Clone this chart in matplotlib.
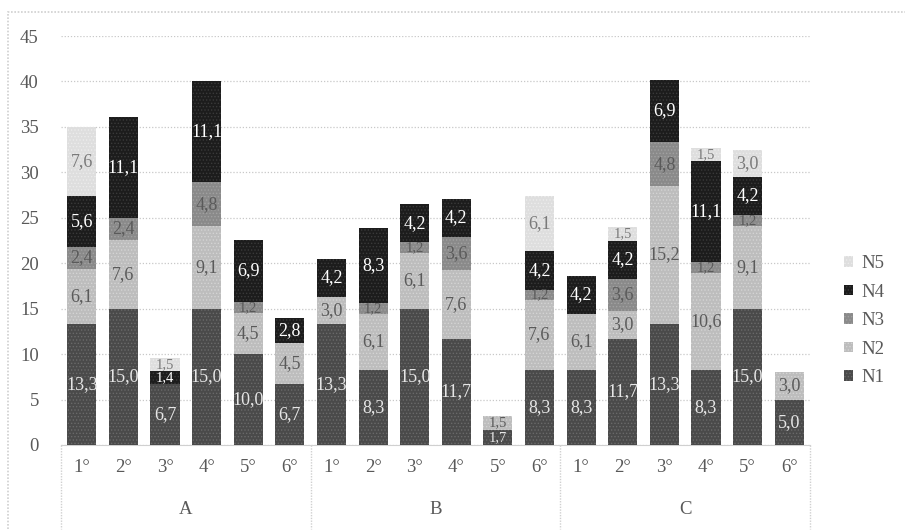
import numpy as np
import matplotlib.pyplot as plt
from matplotlib.transforms import blended_transform_factory

# datos
groups = ['A', 'B', 'C']
levels = ['1°', '2°', '3°', '4°', '5°', '6°']
series = ['N1', 'N2', 'N3', 'N4', 'N5']

n1 = [13.3, 15.0, 6.7, 15.0, 10.0, 6.7,
      13.3, 8.3, 15.0, 11.7, 1.7, 8.3,
      8.3, 11.7, 13.3, 8.3, 15.0, 5.0]
n2 = [6.1, 7.6, 0, 9.1, 4.5, 4.5,
      3.0, 6.1, 6.1, 7.6, 1.5, 7.6,
      6.1, 3.0, 15.2, 10.6, 9.1, 3.0]
n3 = [2.4, 2.4, 0, 4.8, 1.2, 0,
      0, 1.2, 1.2, 3.6, 0, 1.2,
      0, 3.6, 4.8, 1.2, 1.2, 0]
n4 = [5.6, 11.1, 1.4, 11.1, 6.9, 2.8,
      4.2, 8.3, 4.2, 4.2, 0, 4.2,
      4.2, 4.2, 6.9, 11.1, 4.2, 0]
n5 = [7.6, 0, 1.5, 0, 0, 0,
      0, 0, 0, 0, 0, 6.1,
      0, 1.5, 0, 1.5, 3.0, 0]

colors = ['#4a4a4a', '#bdbdbd', '#8a8a8a', '#1c1c1c', '#dedede']
hatch_colors = ['#6a6a6a', '#d4d4d4', '#a2a2a2', '#3a3a3a', '#ececec']
label_colors = ['#e6e6e6', '#5a5a5a', '#5a5a5a', '#ffffff', '#7a7a7a']

plt.rcParams['font.family'] = ['Liberation Serif', 'DejaVu Serif']
plt.rcParams['hatch.linewidth'] = 0.6

fig = plt.figure(figsize=(9.05, 5.30), dpi=100)
ax = fig.add_axes([0.0674, 0.1604, 0.8276, 0.7716])

# borde exterior (solo se ven izquierda y arriba)
fig.patches.append(plt.Rectangle((0.009, -0.05), 1.05, 1.028, transform=fig.transFigure,
                                 fill=False, edgecolor='#d0d0d0', linewidth=1.2, linestyle=(0, (1, 1))))

data = [n1, n2, n3, n4, n5]
x = np.arange(len(n1))
bottom = np.zeros(len(n1))
handles = []
for i, vals in enumerate(data):
    vals = np.array(vals)
    bars = ax.bar(x, vals, 0.7, bottom=bottom, color=colors[i], edgecolor=hatch_colors[i],
                  linewidth=0, hatch='.....', label=series[i], zorder=3)
    handles.append(bars)
    for xi, v, b in zip(x, vals, bottom):
        if v > 0:
            fs = 13 if v >= 2 else 10.5
            ax.text(xi, b + v / 2, '{:.1f}'.format(v).replace('.', ','), ha='center', va='center',
                    fontsize=fs, color=label_colors[i], zorder=4)
    bottom = bottom + vals

ax.set_ylim(0, 45)
ax.set_xlim(-0.5, len(n1) - 0.5)
ax.set_yticks(np.arange(0, 46, 5))
ax.yaxis.grid(True, color='#c8c8c8', linestyle=(0, (1, 1.5)), linewidth=0.9)
ax.set_axisbelow(True)
for s in ['top', 'right', 'left']:
    ax.spines[s].set_visible(False)
ax.spines['bottom'].set_color('#d0d0d0')
ax.spines['bottom'].set_linestyle((0, (1, 1)))
ax.tick_params(axis='y', length=0, labelsize=13.5, labelcolor='#595959', pad=16)
ax.tick_params(axis='x', length=0, labelsize=13.5, labelcolor='#595959', pad=10)
ax.set_xticks(x)
ax.set_xticklabels(levels * len(groups))

# categorias de grupo
trans = blended_transform_factory(ax.transData, ax.transAxes)
for g in range(len(groups) + 1):
    ax.plot([g * 6 - 0.5, g * 6 - 0.5], [0, -0.205], transform=trans, color='#d0d0d0',
            linestyle=(0, (1, 1)), linewidth=1, clip_on=False)
for g, name in enumerate(groups):
    ax.text(g * 6 + 2.5, -0.158, name, transform=trans, ha='center', va='center',
            fontsize=13.5, color='#595959')

leg = fig.legend(handles[::-1], series[::-1], loc='center left', bbox_to_anchor=(0.922, 0.395),
                 frameon=False, fontsize=13.5, labelcolor='#595959', handlelength=0.5,
                 handleheight=0.5, handletextpad=0.45, labelspacing=0.62, borderpad=0)

plt.savefig('out.png', dpi=100)
